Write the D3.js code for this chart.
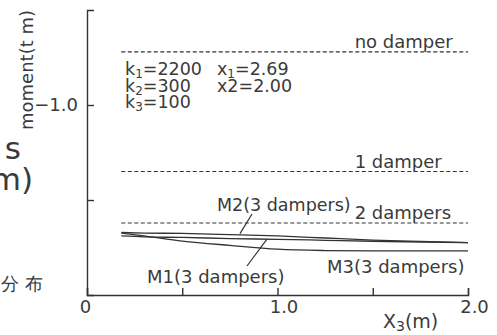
<!DOCTYPE html>
<html><head><meta charset="utf-8">
<script src="https://cdn.jsdelivr.net/npm/d3@7"></script>
<style>
html,body{margin:0;padding:0;background:#fff;}
svg{display:block;}
text{font-family:"DejaVu Sans",sans-serif;fill:#3a3a3a;}
</style></head>
<body>
<script>
// ---- data ----
const xPos = [0.18, 0.3, 0.5, 0.75, 1.0, 1.25, 1.5, 1.75, 2.0];
const M1 = [-0.311, -0.306, -0.303, -0.297, -0.293, -0.288, -0.283, -0.279, -0.276];
const M2 = [-0.329, -0.326, -0.324, -0.318, -0.311, -0.300, -0.289, -0.282, -0.276];
const M3 = [-0.326, -0.311, -0.284, -0.261, -0.241, -0.234, -0.232, -0.232, -0.232];
const dampedLevels = [-1.28, -0.65, -0.379];
const dampedNames = ["no damper", "1 damper", "2 dampers"];
const xTicks = [0, 0.5, 1.0, 1.5, 2.0];
const xTickLabels = ["0", "", "1.0", "", "2.0"];
const yTicks = [-0.5, -1.0];
const yTickLabels = ["", "\u22121.0"];

const W = 497, H = 335;
const svg = d3.select("body").append("svg").attr("width", W).attr("height", H);
const x = d3.scaleLinear().domain([0, 2]).range([87, 468]);
const y = d3.scaleLinear().domain([0, -1.5]).range([295, 10]);
const ink = "#333";

// axes
const xAxis = d3.axisBottom(x).tickValues(xTicks)
  .tickFormat((d, i) => xTickLabels[i]).tickSizeInner(-7).tickSizeOuter(-7).tickPadding(5);
const gx = svg.append("g").attr("transform", "translate(0,295)").call(xAxis);
gx.selectAll("text").attr("dx", (d) => d === 0 ? -2 : 6);
const yAxis = d3.axisLeft(y).tickValues(yTicks)
  .tickFormat((d, i) => yTickLabels[i]).tickSizeInner(-7).tickSizeOuter(-7).tickPadding(9);
const gy = svg.append("g").attr("transform", "translate(87,0)").call(yAxis);
[gx, gy].forEach(g => {
  g.selectAll("path,line").attr("stroke", ink).attr("stroke-width", 1.4);
  g.selectAll("text").attr("font-family", "DejaVu Sans").attr("font-size", 18).attr("fill", "#3a3a3a");
});

// dashed level lines
dampedLevels.forEach((v, i) => {
  svg.append("line").attr("x1", x(0.18)).attr("x2", x(2.0)).attr("y1", y(v)).attr("y2", y(v))
    .attr("stroke", ink).attr("stroke-width", 1.2).attr("stroke-dasharray", "4,2.5");
  svg.append("text").attr("x", x(1.405)).attr("y", y(v) - 4).attr("font-size", 18).text(dampedNames[i]);
});

// curves
const line = d3.line().x((d, i) => x(xPos[i])).y(d => y(d)).curve(d3.curveMonotoneX);
[M1, M2, M3].forEach(s => {
  svg.append("path").attr("d", line(s)).attr("fill", "none").attr("stroke", ink).attr("stroke-width", 1.3);
});

// parameter block
function sub(t, base, s, rest) {
  t.append("tspan").text(base);
  t.append("tspan").attr("font-size", 12).attr("dy", 3).text(s);
  t.append("tspan").attr("dy", -3).text(rest);
}
const params = [["k", "1", "=2200"], ["k", "2", "=300"], ["k", "3", "=100"]];
params.forEach((p, i) => {
  const t = svg.append("text").attr("x", 125).attr("y", 75 + i * 16.5).attr("font-size", 17.5);
  sub(t, p[0], p[1], p[2]);
});
{
  const t = svg.append("text").attr("x", 217).attr("y", 75).attr("font-size", 17.5);
  sub(t, "x", "1", "=2.69");
  svg.append("text").attr("x", 217).attr("y", 91.5).attr("font-size", 17.5).text("x2=2.00");
}

// curve labels & leaders
svg.append("text").attr("x", 217).attr("y", 211).attr("font-size", 17.5).text("M2(3 dampers)");
svg.append("line").attr("x1", 252).attr("y1", 214).attr("x2", 240).attr("y2", y(-0.323))
  .attr("stroke", ink).attr("stroke-width", 1.2);
svg.append("text").attr("x", 147).attr("y", 283).attr("font-size", 18).text("M1(3 dampers)");
svg.append("line").attr("x1", 247).attr("y1", 266).attr("x2", 267).attr("y2", y(-0.294))
  .attr("stroke", ink).attr("stroke-width", 1.2);
svg.append("text").attr("x", 327).attr("y", 273).attr("font-size", 18).text("M3(3 dampers)");

// axis titles
{
  const t = svg.append("text").attr("x", 383).attr("y", 328).attr("font-size", 19);
  t.append("tspan").text("X");
  t.append("tspan").attr("font-size", 14).attr("dy", 3).text("3");
  t.append("tspan").attr("dy", -3).text("(m)");
}
svg.append("text").attr("transform", "translate(33,70) rotate(-90)")
  .attr("text-anchor", "middle").attr("font-size", 18).text("moment(t m)");

// clipped surrounding page text
svg.append("text").attr("x", 21).attr("y", 159).attr("text-anchor", "end").attr("font-size", 31).attr("fill", "#555").text("s");
svg.append("text").attr("x", 33).attr("y", 190).attr("text-anchor", "end").attr("font-size", 31).attr("fill", "#555").text("m)");
svg.append("text").attr("x", 43).attr("y", 290).attr("text-anchor", "end").attr("font-size", 18)
  .attr("font-family", "Noto Sans CJK JP").attr("fill", "#555").text("分 布");
</script>
</body></html>
